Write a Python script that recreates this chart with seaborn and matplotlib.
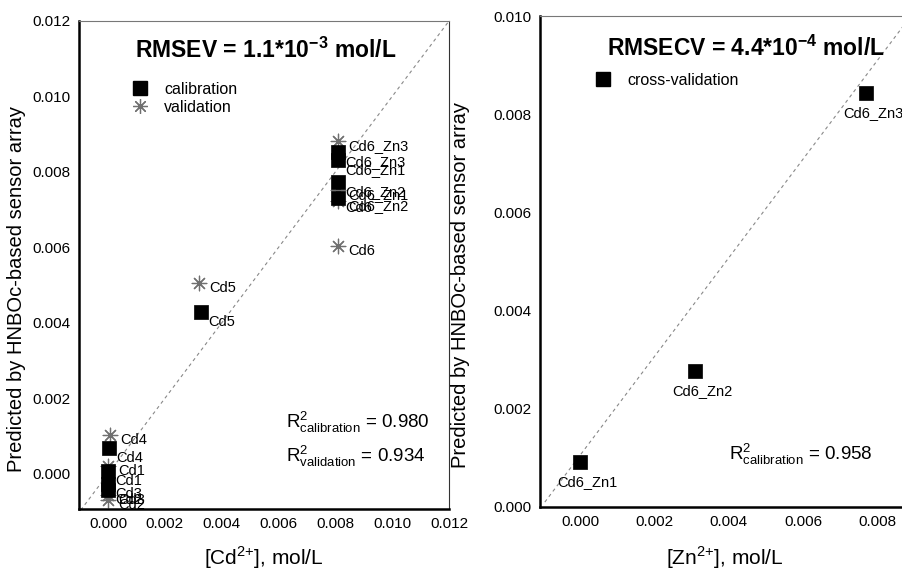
import numpy as np
import pandas as pd
import seaborn as sns
import matplotlib.pyplot as plt
from matplotlib.lines import Line2D

sns.set_style("white")
plt.rcParams["font.family"] = ["Liberation Sans", "DejaVu Sans"]
plt.rcParams["mathtext.fontset"] = "custom"
plt.rcParams["mathtext.rm"] = "Liberation Sans"
plt.rcParams["mathtext.bf"] = "Liberation Sans:bold"
for key in ("text.color", "axes.labelcolor", "xtick.color", "ytick.color"):
    plt.rcParams[key] = "black"

# left panel: Cd2+ model
cal_names = ["Cd6_Zn3", "Cd6_Zn1", "Cd6_Zn2", "Cd6", "Cd5", "Cd4", "Cd1", "Cd3", "Cd2"]
cal_true = [0.0081, 0.0081, 0.0081, 0.0081, 0.00327, 0.00003, 0.0, 0.0, 0.0]
cal_pred = [0.00852, 0.00832, 0.00773, 0.00732, 0.00428, 0.00069, 0.00008, -0.00027, -0.00043]

val_names = ["Cd6_Zn3", "Cd6_Zn1", "Cd6_Zn2", "Cd6", "Cd5", "Cd4", "Cd1", "Cd3", "Cd2"]
val_true = [0.0081, 0.0081, 0.0081, 0.0081, 0.00322, 0.00008, 0.0, 0.0, 0.0]
val_pred = [0.00882, 0.00752, 0.00722, 0.00603, 0.00505, 0.00103, 0.00022, -0.00055, -0.00069]

# right panel: Zn2+ cross-validation
cv_names = ["Cd6_Zn1", "Cd6_Zn2", "Cd6_Zn3"]
cv_true = [0.0, 0.0031, 0.0077]
cv_pred = [0.00092, 0.00277, 0.00843]

left_diag = [-0.0011, 0.0121]
right_line_x = [-0.00095, 0.0090]
right_line_y = [0.0001, 0.0101]

cal = pd.DataFrame({"x": cal_true, "y": cal_pred, "name": cal_names})
val = pd.DataFrame({"x": val_true, "y": val_pred, "name": val_names})
cv = pd.DataFrame({"x": cv_true, "y": cv_pred, "name": cv_names})

fig = plt.figure(figsize=(9.02, 5.73), dpi=100)
ax1 = fig.add_axes([79 / 902, 1 - 509 / 573, 370 / 902, 488 / 573])
ax2 = fig.add_axes([540 / 902, 1 - 507 / 573, 374.5 / 902, 491 / 573])

star = (8, 2, 0)
dash = (0, (3, 3))
lab_fs = 10.5

# ---- left
ax1.plot(left_diag, left_diag, color="#888888", lw=0.8, ls=dash, zorder=1)
sns.scatterplot(data=val, x="x", y="y", ax=ax1, marker=star, s=110,
                color="#707070", linewidth=0.9, legend=False, zorder=2)
sns.scatterplot(data=cal, x="x", y="y", ax=ax1, marker="s", s=95,
                color="black", edgecolor="black", linewidth=0.5,
                legend=False, zorder=3)
for _, r in val.iterrows():
    ax1.annotate(r["name"], (r["x"], r["y"]), xytext=(10, -5),
                 textcoords="offset pixels", fontsize=lab_fs, va="center", ha="left")
for _, r in cal.iterrows():
    ax1.annotate(r["name"], (r["x"], r["y"]), xytext=(7, -10),
                 textcoords="offset pixels", fontsize=lab_fs, va="center", ha="left")

ax1.set_xlim(-0.00102, 0.012)
ax1.set_ylim(-0.00093, 0.012)
ax1.set_xticks(np.arange(0, 0.0121, 0.002))
ax1.set_yticks(np.arange(0, 0.0121, 0.002))
ax1.xaxis.set_major_formatter(plt.FormatStrFormatter("%.3f"))
ax1.yaxis.set_major_formatter(plt.FormatStrFormatter("%.3f"))

h_cal = Line2D([], [], marker="s", color="black", ls="none", markersize=9.5)
h_val = Line2D([], [], marker=star, color="#707070", ls="none", markersize=10.5, mew=0.9)
ax1.legend([h_cal, h_val], ["calibration", "validation"], loc="upper left",
           bbox_to_anchor=(0.084, 0.905), frameon=False, fontsize=11.5,
           handletextpad=0.5, labelspacing=0.2)

ax1.text(0.505, 0.94, r"RMSEV = 1.1*10$^{\mathbf{{-}3}}$ mol/L", transform=ax1.transAxes,
         ha="center", va="center", fontsize=16.5, fontweight="bold")
ax1.text(0.56, 0.166, r"$\mathregular{R^2_{calibration}}$ = 0.980", transform=ax1.transAxes,
         ha="left", va="baseline", fontsize=13.5)
ax1.text(0.56, 0.096, r"$\mathregular{R^2_{validation}}$ = 0.934", transform=ax1.transAxes,
         ha="left", va="baseline", fontsize=13.5)

ax1.set_xlabel(r"[Cd$^{\mathregular{2{+}}}$], mol/L", fontsize=15)
ax1.set_ylabel("Predicted by HNBOc-based sensor array", fontsize=14.5)
ax1.xaxis.set_label_coords(0.5, -0.072)
ax1.yaxis.set_label_coords(-0.143, 0.45)

# ---- right
ax2.plot(right_line_x, right_line_y, color="#888888", lw=0.8, ls=dash, zorder=1)
sns.scatterplot(data=cv, x="x", y="y", ax=ax2, marker="s", s=95,
                color="black", edgecolor="black", linewidth=0.5, zorder=3, legend=False)
for _, r in cv.iterrows():
    ax2.annotate(r["name"], (r["x"], r["y"]), xytext=(7, -20),
                 textcoords="offset pixels", fontsize=lab_fs, va="center", ha="center")

ax2.set_xlim(-0.00108, 0.00900)
ax2.set_ylim(0, 0.010)
ax2.set_xticks(np.arange(0, 0.0081, 0.002))
ax2.set_yticks(np.arange(0, 0.0101, 0.002))
ax2.xaxis.set_major_formatter(plt.FormatStrFormatter("%.3f"))
ax2.yaxis.set_major_formatter(plt.FormatStrFormatter("%.3f"))

h_cv = Line2D([], [], marker="s", color="black", ls="none", markersize=9.5)
ax2.legend([h_cv], ["cross-validation"], loc="upper left",
           bbox_to_anchor=(0.087, 0.914), frameon=False, fontsize=11.5,
           handletextpad=0.5)

ax2.text(0.55, 0.935, r"RMSECV = 4.4*10$^{\mathbf{{-}4}}$ mol/L", transform=ax2.transAxes,
         ha="center", va="center", fontsize=16.5, fontweight="bold")
ax2.text(0.505, 0.096, r"$\mathregular{R^2_{calibration}}$ = 0.958", transform=ax2.transAxes,
         ha="left", va="baseline", fontsize=13.5)

ax2.set_xlabel(r"[Zn$^{\mathregular{2{+}}}$], mol/L", fontsize=15)
ax2.set_ylabel("Predicted by HNBOc-based sensor array", fontsize=14.5)
ax2.xaxis.set_label_coords(0.494, -0.077)
ax2.yaxis.set_label_coords(-0.187, 0.452)

for ax in (ax1, ax2):
    ax.tick_params(length=0, pad=6, labelsize=11)
    ax.spines["left"].set_linewidth(1.8)
    ax.spines["bottom"].set_linewidth(1.8)
    ax.spines["left"].set_color("black")
    ax.spines["bottom"].set_color("black")
    ax.spines["top"].set_linewidth(0.8)
    ax.spines["top"].set_color("#777777")
    ax.spines["right"].set_linewidth(0.8)
    ax.spines["right"].set_color("#333333")

fig.savefig("out.png", dpi=100)
